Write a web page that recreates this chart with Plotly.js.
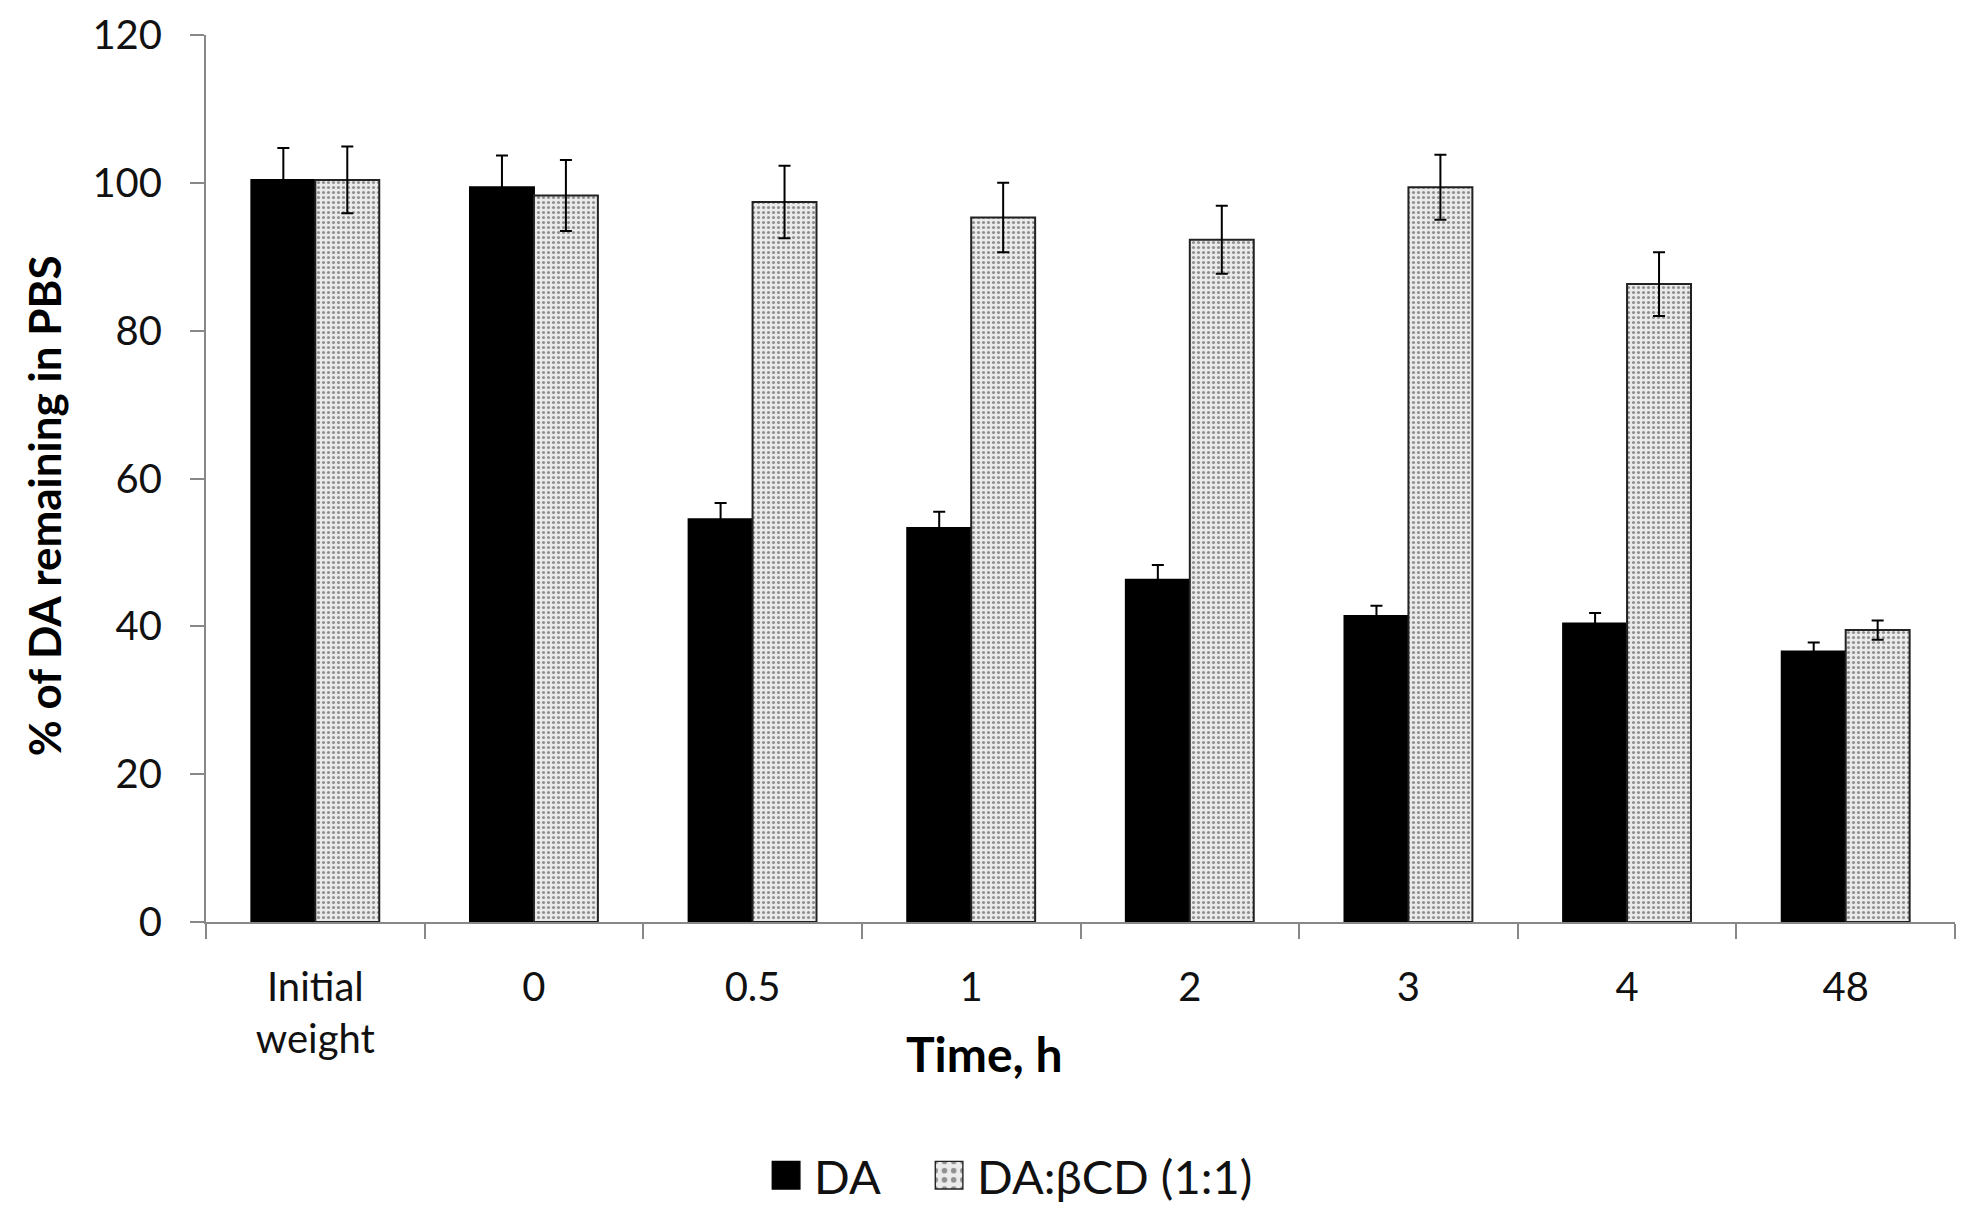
<!DOCTYPE html>
<html lang="en">
  <head>
    <meta charset="UTF-8" />
    <title>% of DA remaining in PBS</title>
    <script src="https://cdn.plot.ly/plotly-3.0.1.min.js"></script>
    <style>
      body {
        margin: 0;
        padding: 0;
        background: #fff;
      }
      #chart {
        width: 1978px;
        height: 1222px;
      }
      /* bigger legend swatches, like the original figure */
      #chart .legend .scrollbox {
        clip-path: none !important;
      }
      #chart .legend .legendpoints path {
        transform: translate(12px, 0) scale(2.3);
        stroke-width: 0.6px !important;
      }
    </style>
  </head>
  <body>
    <div id="chart"></div>
    <script>
      // time points (h)
      const timeLabels = ["Initial<br>weight", "0", "0.5", "1", "2", "3", "4", "48"];

      // % of DA remaining, free drug
      const daValues = [100.4, 99.4, 54.5, 53.3, 46.3, 41.4, 40.4, 36.6];
      const daErrors = [4.3, 4.3, 2.2, 2.2, 2.0, 1.4, 1.4, 1.2];

      // % of DA remaining, DA:bCD complex
      const cdValues = [100.4, 98.3, 97.4, 95.3, 92.3, 99.4, 86.3, 39.5];
      const cdErrors = [4.5, 4.8, 4.9, 4.7, 4.6, 4.4, 4.3, 1.3];

      const font = "Lato, 'Noto Sans', 'DejaVu Sans', sans-serif";

      const traces = [
        {
          type: "bar",
          name: "DA",
          x: timeLabels,
          y: daValues,
          error_y: {
            type: "data",
            array: daErrors,
            visible: true,
            color: "#000",
            thickness: 2,
            width: 6,
          },
          marker: {
            color: "#000",
            line: { color: "#000", width: 2 },
          },
        },
        {
          type: "bar",
          name: "DA:βCD (1:1)",
          x: timeLabels,
          y: cdValues,
          error_y: {
            type: "data",
            array: cdErrors,
            visible: true,
            color: "#000",
            thickness: 2,
            width: 6,
          },
          marker: {
            color: "#e6e6e6",
            pattern: {
              shape: ".",
              fgcolor: "#909090",
              bgcolor: "#ebebeb",
              size: 5,
              solidity: 0.3,
            },
            line: { color: "#222", width: 2 },
          },
        },
      ];

      const layout = {
        width: 1978,
        height: 1222,
        margin: { l: 206, r: 23, t: 35, b: 300, autoexpand: false },
        paper_bgcolor: "#fff",
        plot_bgcolor: "#fff",
        font: { family: font, size: 40, color: "#111" },
        barmode: "group",
        bargap: 0.415,
        bargroupgap: 0,
        showlegend: true,
        legend: {
          orientation: "h",
          x: 0.418,
          xanchor: "center",
          y: -0.286,
          yanchor: "middle",
          font: { family: font, size: 47, color: "#111" },
          itemwidth: 30,
          entrywidth: 118,
          entrywidthmode: "pixels",
          traceorder: "normal",
        },
        xaxis: {
          type: "category",
          showline: true,
          linecolor: "#888",
          linewidth: 2,
          ticks: "outside",
          tickson: "boundaries",
          ticklen: 15,
          tickwidth: 2,
          tickcolor: "#888",
          showgrid: false,
          zeroline: false,
          ticklabelstandoff: 29,
          tickfont: { family: font, size: 40, color: "#111" },
        },
        yaxis: {
          range: [0, 120],
          dtick: 20,
          showline: true,
          linecolor: "#888",
          linewidth: 2,
          ticks: "outside",
          ticklen: 14,
          tickwidth: 2,
          tickcolor: "#888",
          showgrid: false,
          zeroline: false,
          ticklabelstandoff: 20,
          tickfont: { family: font, size: 40, color: "#111" },
        },
        annotations: [
          {
            text: "<b>Time, h</b>",
            xref: "paper",
            yref: "paper",
            x: 0.445,
            y: -0.148,
            xanchor: "center",
            yanchor: "middle",
            showarrow: false,
            font: { family: font, size: 48, color: "#000" },
          },
          {
            text: "<b>% of DA remaining in PBS</b>",
            xref: "paper",
            yref: "paper",
            x: -0.0925,
            y: 0.469,
            xanchor: "center",
            yanchor: "middle",
            textangle: -90,
            showarrow: false,
            font: { family: font, size: 44, color: "#000" },
          },
        ],
      };

      Plotly.newPlot("chart", traces, layout, { displayModeBar: false, staticPlot: true });
    </script>
  </body>
</html>
